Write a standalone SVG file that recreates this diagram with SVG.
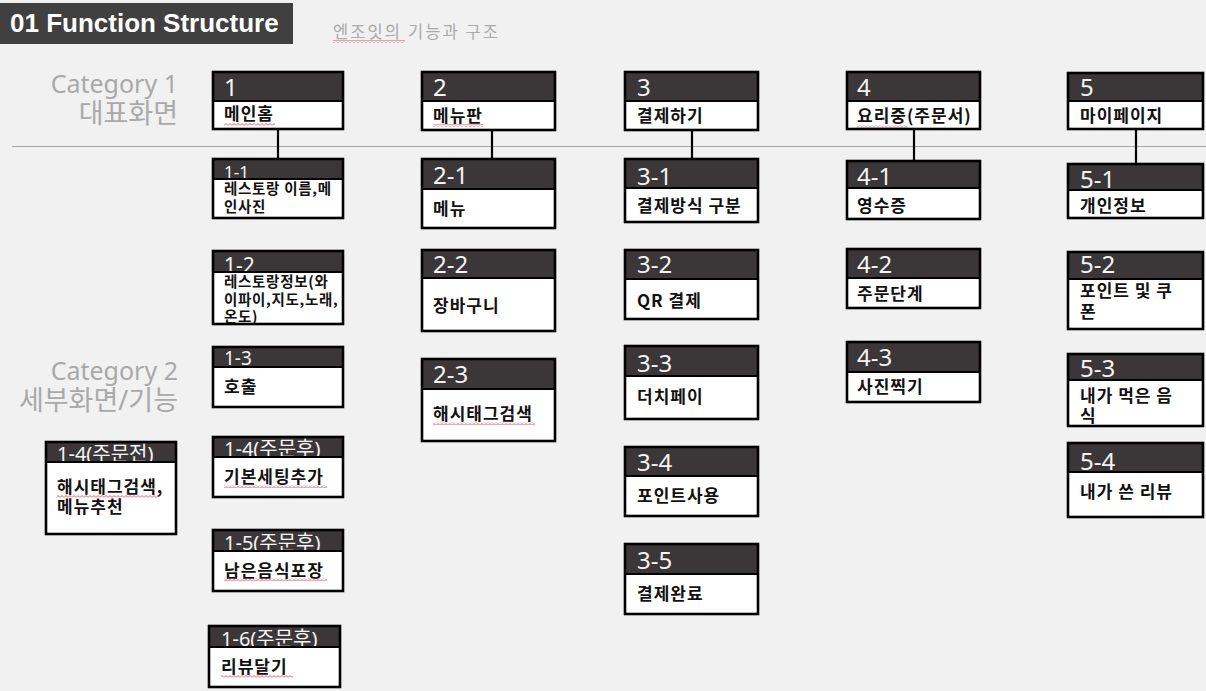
<svg xmlns="http://www.w3.org/2000/svg" width="1206" height="691" viewBox="0 0 1206 691">
<style>
.bg{fill:#f1f1f1}
.hd{fill:#3b3738}
.bd{fill:#ffffff}
.fr{fill:none;stroke:#000;stroke-width:2.6}
.sep{stroke:#000;stroke-width:2.2}
.ht{font-family:"Noto Sans","Open Sans","Noto Sans CJK KR",sans-serif;fill:#f4f4f4}
.h1{font-size:24px}
.hs{font-size:24px}
.hm{font-size:19px}
.bt{font-family:"Noto Sans CJK KR","Noto Sans",sans-serif;font-weight:bold;fill:#111;font-size:17px;letter-spacing:1px}
.b14{font-size:14.5px;letter-spacing:0.7px}
.b17{font-size:17px}
.cat{font-family:"Noto Sans","Noto Sans CJK KR",sans-serif;fill:#a9a9a9;font-size:25px;text-anchor:end}
.catk{font-size:27px}
.cn{stroke:#000;stroke-width:2.2;fill:none}
.sq{fill:url(#wave)}
</style>
<defs>
<pattern id="wave" width="4" height="3" patternUnits="userSpaceOnUse">
<path d="M0 2.5 L2 0.5 L4 2.5" fill="none" stroke="#e04050" stroke-width="0.9"/>
</pattern>
<clipPath id="c11"><rect x="213" y="159" width="130" height="20"/></clipPath>
<clipPath id="c12"><rect x="213" y="251" width="130" height="21"/></clipPath>
<clipPath id="c13"><rect x="213" y="347" width="130" height="20"/></clipPath>
<clipPath id="c14a"><rect x="46" y="442" width="130" height="20"/></clipPath>
<clipPath id="c14b"><rect x="213" y="437" width="130" height="20"/></clipPath>
<clipPath id="c15"><rect x="213" y="530" width="130" height="21"/></clipPath>
<clipPath id="c16"><rect x="209" y="626" width="131" height="21"/></clipPath>
</defs>
<rect class="bg" x="0" y="0" width="1206" height="691"/>

<g id="title">
<rect x="0" y="3" width="293" height="41" fill="#404040"/>
<text x="10" y="32" font-family="'Liberation Sans',Arial,sans-serif" font-weight="bold" font-size="26" fill="#ffffff">01 Function Structure</text>
<text x="333" y="38" font-family="'Noto Sans CJK KR',sans-serif" font-size="16.5" fill="#a9a9a9" textLength="165" lengthAdjust="spacing">엔조잇의 기능과 구조</text>
<rect class="sq" x="333" y="40" width="72" height="3"/>
</g>

<g id="categories">
<text class="cat" x="178" y="93">Category 1</text>
<text class="cat catk" x="178" y="123">대표화면</text>
<text class="cat" x="178" y="380">Category 2</text>
<text class="cat catk" x="178" y="410">세부화면/기능</text>
<line x1="12" y1="146.5" x2="1206" y2="146.5" stroke="#a6a6a6" stroke-width="1"/>
</g>

<g id="connectors">
<line class="cn" x1="278" y1="129" x2="278" y2="159"/>
<line class="cn" x1="492" y1="130" x2="492" y2="159"/>
<line class="cn" x1="692" y1="130" x2="692" y2="159"/>
<line class="cn" x1="914" y1="129" x2="914" y2="161"/>
<line class="cn" x1="1136" y1="129" x2="1136" y2="164"/>
</g>

<!-- Column 1 -->
<g id="n1">
<rect class="hd" x="213" y="72" width="130" height="29"/>
<text class="ht h1" x="224" y="96">1</text>
<rect class="bd" x="213" y="101" width="130" height="28"/>
<rect class="fr" x="213" y="72" width="130" height="57"/>
<line class="sep" x1="213" y1="101" x2="343" y2="101"/>
<text class="bt" x="224" y="120">메인홈</text>
<rect class="sq" x="224" y="123" width="51" height="3"/>
</g>

<g id="n1-1">
<rect class="hd" x="213" y="159" width="130" height="20"/>
<text class="ht" font-size="17" x="224" y="178" clip-path="url(#c11)">1-1</text>
<rect class="bd" x="213" y="179" width="130" height="39"/>
<rect class="fr" x="213" y="159" width="130" height="59"/>
<line class="sep" x1="213" y1="179" x2="343" y2="179"/>
<text class="bt b14" x="224" y="194">레스토랑 이름,메</text>
<text class="bt b14" x="224" y="212">인사진</text>
</g>

<g id="n1-2">
<rect class="hd" x="213" y="251" width="130" height="21"/>
<text class="ht" font-size="21" x="224" y="273" clip-path="url(#c12)">1-2</text>
<rect class="bd" x="213" y="272" width="130" height="52"/>
<rect class="fr" x="213" y="251" width="130" height="73"/>
<line class="sep" x1="213" y1="272" x2="343" y2="272"/>
<text class="bt b14" x="224" y="287">레스토랑정보(와</text>
<text class="bt b14" x="224" y="305">이파이,지도,노래,</text>
<text class="bt b14" x="224" y="322">온도)</text>
</g>

<g id="n1-3">
<rect class="hd" x="213" y="347" width="130" height="20"/>
<text class="ht hm" x="224" y="365" clip-path="url(#c13)">1-3</text>
<rect class="bd" x="213" y="367" width="130" height="40"/>
<rect class="fr" x="213" y="347" width="130" height="60"/>
<line class="sep" x1="213" y1="367" x2="343" y2="367"/>
<text class="bt" x="224" y="393">호출</text>
</g>

<g id="n1-4a">
<rect class="hd" x="46" y="442" width="130" height="20"/>
<text class="ht" font-size="20" x="57" y="461" clip-path="url(#c14a)">1-4(주문전)</text>
<rect class="bd" x="46" y="462" width="130" height="72"/>
<rect class="fr" x="46" y="442" width="130" height="92"/>
<line class="sep" x1="46" y1="462" x2="176" y2="462"/>
<text class="bt b17" x="57" y="493">해시태그검색,</text>
<text class="bt b17" x="57" y="513">메뉴추천</text>
<rect class="sq" x="57" y="495" width="102" height="3"/>
</g>

<g id="n1-4b">
<rect class="hd" x="213" y="437" width="130" height="20"/>
<text class="ht" font-size="20" x="224" y="456" clip-path="url(#c14b)">1-4(주문후)</text>
<rect class="bd" x="213" y="457" width="130" height="40"/>
<rect class="fr" x="213" y="437" width="130" height="60"/>
<line class="sep" x1="213" y1="457" x2="343" y2="457"/>
<text class="bt b17" x="224" y="483">기본세팅추가</text>
<rect class="sq" x="224" y="485" width="103" height="3"/>
</g>

<g id="n1-5">
<rect class="hd" x="213" y="530" width="130" height="21"/>
<text class="ht" font-size="20" x="224" y="550" clip-path="url(#c15)">1-5(주문후)</text>
<rect class="bd" x="213" y="551" width="130" height="40"/>
<rect class="fr" x="213" y="530" width="130" height="61"/>
<line class="sep" x1="213" y1="551" x2="343" y2="551"/>
<text class="bt b17" x="224" y="577">남은음식포장</text>
<rect class="sq" x="224" y="578" width="103" height="3"/>
</g>

<g id="n1-6">
<rect class="hd" x="209" y="626" width="131" height="21"/>
<text class="ht" font-size="20" x="221" y="646" clip-path="url(#c16)">1-6(주문후)</text>
<rect class="bd" x="209" y="647" width="131" height="40"/>
<rect class="fr" x="209" y="626" width="131" height="61"/>
<line class="sep" x1="209" y1="647" x2="340" y2="647"/>
<text class="bt b17" x="221" y="673">리뷰달기</text>
<rect class="sq" x="221" y="675" width="72" height="3"/>
</g>

<!-- Column 2 -->
<g id="n2">
<rect class="hd" x="422" y="72" width="133" height="29"/>
<text class="ht h1" x="433" y="96">2</text>
<rect class="bd" x="422" y="101" width="133" height="29"/>
<rect class="fr" x="422" y="72" width="133" height="58"/>
<line class="sep" x1="422" y1="101" x2="555" y2="101"/>
<text class="bt" x="433" y="122">메뉴판</text>
<rect class="sq" x="433" y="124" width="50" height="3"/>
</g>

<g id="n2-1">
<rect class="hd" x="422" y="159" width="133" height="30"/>
<text class="ht hs" x="433" y="184">2-1</text>
<rect class="bd" x="422" y="189" width="133" height="39"/>
<rect class="fr" x="422" y="159" width="133" height="69"/>
<line class="sep" x1="422" y1="189" x2="555" y2="189"/>
<text class="bt" x="433" y="215">메뉴</text>
</g>

<g id="n2-2">
<rect class="hd" x="422" y="250" width="133" height="28"/>
<text class="ht hs" x="433" y="273">2-2</text>
<rect class="bd" x="422" y="278" width="133" height="53"/>
<rect class="fr" x="422" y="250" width="133" height="81"/>
<line class="sep" x1="422" y1="278" x2="555" y2="278"/>
<text class="bt" x="433" y="312">장바구니</text>
</g>

<g id="n2-3">
<rect class="hd" x="422" y="359" width="133" height="30"/>
<text class="ht hs" x="433" y="383">2-3</text>
<rect class="bd" x="422" y="389" width="133" height="52"/>
<rect class="fr" x="422" y="359" width="133" height="82"/>
<line class="sep" x1="422" y1="389" x2="555" y2="389"/>
<text class="bt b17" x="433" y="420">해시태그검색</text>
<rect class="sq" x="433" y="422" width="102" height="3"/>
</g>

<!-- Column 3 -->
<g id="n3">
<rect class="hd" x="625" y="72" width="133" height="29"/>
<text class="ht h1" x="637" y="96">3</text>
<rect class="bd" x="625" y="101" width="133" height="29"/>
<rect class="fr" x="625" y="72" width="133" height="58"/>
<line class="sep" x1="625" y1="101" x2="758" y2="101"/>
<text class="bt" x="637" y="122">결제하기</text>
</g>

<g id="n3-1">
<rect class="hd" x="625" y="159" width="133" height="29"/>
<text class="ht hs" x="637" y="185">3-1</text>
<rect class="bd" x="625" y="188" width="133" height="34"/>
<rect class="fr" x="625" y="159" width="133" height="63"/>
<line class="sep" x1="625" y1="188" x2="758" y2="188"/>
<text class="bt" x="637" y="212">결제방식 구분</text>
</g>

<g id="n3-2">
<rect class="hd" x="625" y="250" width="133" height="29"/>
<text class="ht hs" x="637" y="273">3-2</text>
<rect class="bd" x="625" y="279" width="133" height="40"/>
<rect class="fr" x="625" y="250" width="133" height="69"/>
<line class="sep" x1="625" y1="279" x2="758" y2="279"/>
<text class="bt" x="637" y="307">QR 결제</text>
</g>

<g id="n3-3">
<rect class="hd" x="625" y="346" width="133" height="30"/>
<text class="ht hs" x="637" y="372">3-3</text>
<rect class="bd" x="625" y="376" width="133" height="43"/>
<rect class="fr" x="625" y="346" width="133" height="73"/>
<line class="sep" x1="625" y1="376" x2="758" y2="376"/>
<text class="bt" x="637" y="403">더치페이</text>
</g>

<g id="n3-4">
<rect class="hd" x="625" y="447" width="133" height="29"/>
<text class="ht hs" x="637" y="471">3-4</text>
<rect class="bd" x="625" y="476" width="133" height="40"/>
<rect class="fr" x="625" y="447" width="133" height="69"/>
<line class="sep" x1="625" y1="476" x2="758" y2="476"/>
<text class="bt" x="637" y="502">포인트사용</text>
</g>

<g id="n3-5">
<rect class="hd" x="625" y="544" width="133" height="30"/>
<text class="ht hs" x="637" y="569">3-5</text>
<rect class="bd" x="625" y="574" width="133" height="40"/>
<rect class="fr" x="625" y="544" width="133" height="70"/>
<line class="sep" x1="625" y1="574" x2="758" y2="574"/>
<text class="bt" x="637" y="600">결제완료</text>
</g>

<!-- Column 4 -->
<g id="n4">
<rect class="hd" x="847" y="72" width="133" height="29"/>
<text class="ht h1" x="857" y="96">4</text>
<rect class="bd" x="847" y="101" width="133" height="28"/>
<rect class="fr" x="847" y="72" width="133" height="57"/>
<line class="sep" x1="847" y1="101" x2="980" y2="101"/>
<text class="bt" x="857" y="122">요리중(주문서)</text>
<rect class="sq" x="857" y="125" width="51" height="3"/>
</g>

<g id="n4-1">
<rect class="hd" x="847" y="161" width="133" height="27"/>
<text class="ht hs" x="857" y="185">4-1</text>
<rect class="bd" x="847" y="188" width="133" height="31"/>
<rect class="fr" x="847" y="161" width="133" height="58"/>
<line class="sep" x1="847" y1="188" x2="980" y2="188"/>
<text class="bt" x="857" y="212">영수증</text>
</g>

<g id="n4-2">
<rect class="hd" x="847" y="249" width="133" height="29"/>
<text class="ht hs" x="857" y="273">4-2</text>
<rect class="bd" x="847" y="278" width="133" height="30"/>
<rect class="fr" x="847" y="249" width="133" height="59"/>
<line class="sep" x1="847" y1="278" x2="980" y2="278"/>
<text class="bt" x="857" y="300">주문단계</text>
</g>

<g id="n4-3">
<rect class="hd" x="847" y="342" width="133" height="30"/>
<text class="ht hs" x="857" y="366">4-3</text>
<rect class="bd" x="847" y="372" width="133" height="30"/>
<rect class="fr" x="847" y="342" width="133" height="60"/>
<line class="sep" x1="847" y1="372" x2="980" y2="372"/>
<text class="bt" x="857" y="393">사진찍기</text>
</g>

<!-- Column 5 -->
<g id="n5">
<rect class="hd" x="1068" y="73" width="135" height="28"/>
<text class="ht h1" x="1080" y="96">5</text>
<rect class="bd" x="1068" y="101" width="135" height="28"/>
<rect class="fr" x="1068" y="73" width="135" height="56"/>
<line class="sep" x1="1068" y1="101" x2="1203" y2="101"/>
<text class="bt" x="1080" y="122">마이페이지</text>
</g>

<g id="n5-1">
<rect class="hd" x="1068" y="164" width="135" height="26"/>
<text class="ht hs" x="1080" y="188">5-1</text>
<rect class="bd" x="1068" y="190" width="135" height="28"/>
<rect class="fr" x="1068" y="164" width="135" height="54"/>
<line class="sep" x1="1068" y1="190" x2="1203" y2="190"/>
<text class="bt" x="1080" y="212">개인정보</text>
</g>

<g id="n5-2">
<rect class="hd" x="1068" y="252" width="135" height="27"/>
<text class="ht hs" x="1080" y="273">5-2</text>
<rect class="bd" x="1068" y="279" width="135" height="50"/>
<rect class="fr" x="1068" y="252" width="135" height="77"/>
<line class="sep" x1="1068" y1="279" x2="1203" y2="279"/>
<text class="bt" x="1080" y="297">포인트 및 쿠</text>
<text class="bt" x="1080" y="318">폰</text>
</g>

<g id="n5-3">
<rect class="hd" x="1068" y="354" width="135" height="26"/>
<text class="ht hs" x="1080" y="377">5-3</text>
<rect class="bd" x="1068" y="380" width="135" height="46"/>
<rect class="fr" x="1068" y="354" width="135" height="72"/>
<line class="sep" x1="1068" y1="380" x2="1203" y2="380"/>
<text class="bt" x="1080" y="402">내가 먹은 음</text>
<text class="bt" x="1080" y="422">식</text>
</g>

<g id="n5-4">
<rect class="hd" x="1068" y="443" width="135" height="29"/>
<text class="ht hs" x="1080" y="470">5-4</text>
<rect class="bd" x="1068" y="472" width="135" height="45"/>
<rect class="fr" x="1068" y="443" width="135" height="74"/>
<line class="sep" x1="1068" y1="472" x2="1203" y2="472"/>
<text class="bt" x="1080" y="498">내가 쓴 리뷰</text>
</g>
</svg>
